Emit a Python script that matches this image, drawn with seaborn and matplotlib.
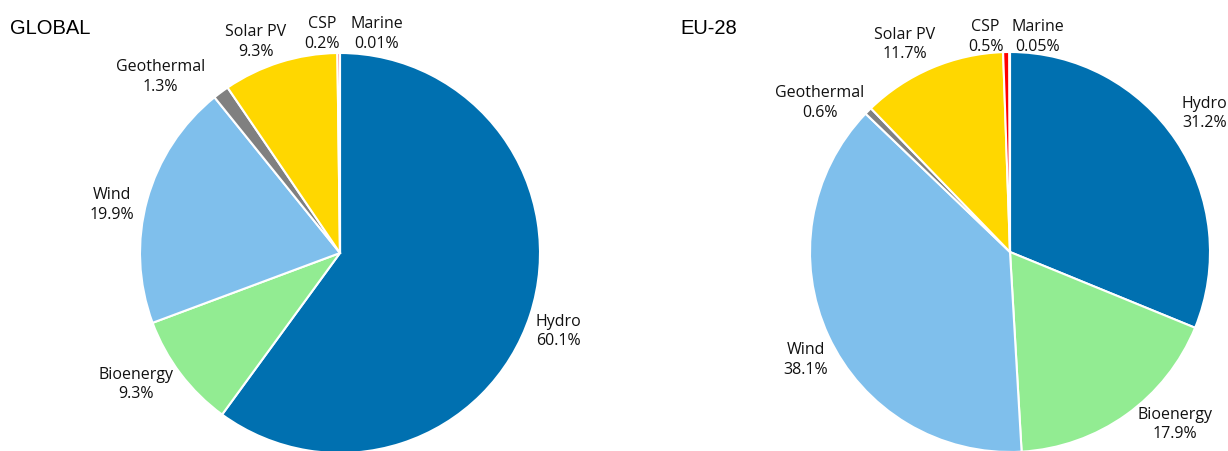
import matplotlib
matplotlib.use("Agg")
import matplotlib.pyplot as plt
import numpy as np
import seaborn as sns

# Renewable capacity shares by technology
technologies = ["Hydro", "Bioenergy", "Wind", "Geothermal", "Solar PV", "CSP", "Marine"]
global_share = [60.1, 9.3, 19.9, 1.3, 9.3, 0.2, 0.01]
eu28_share = [31.2, 17.9, 38.1, 0.6, 11.7, 0.5, 0.05]
global_labels = ["60.1%", "9.3%", "19.9%", "1.3%", "9.3%", "0.2%", "0.01%"]
eu28_labels = ["31.2%", "17.9%", "38.1%", "0.6%", "11.7%", "0.5%", "0.05%"]

sns.set_theme(style="white")
plt.rcParams["font.family"] = ["Open Sans", "DejaVu Sans"]

palette = sns.color_palette(["#0070B0", "#92EC92", "#7FBFEC", "#808080",
                             "#FFD700", "#FF0000", "#1F3864"])

W, H, DPI = 1228, 451, 100
fig = plt.figure(figsize=(W / DPI, H / DPI), dpi=DPI)

# label nudges (data units) applied on top of the radial label position
global_nudge = [(-0.02, -0.03), (-0.09, 0.05), (-0.01, -0.07), (-0.20, -0.06),
                (-0.07, -0.06), (-0.08, -0.075), (0.185, -0.075)]
eu_nudge = [(0.0, 0.04), (0.145, 0.09), (0.04, -0.05), (-0.12, -0.08),
            (-0.07, -0.04), (-0.10, -0.095), (0.14, -0.095)]


def draw_pie(left_px, width_px, cx_px, cy_px, r_px, values, pct, nudges):
    ax = fig.add_axes([left_px / W, 0, width_px / W, 1])
    wedges, _ = ax.pie(values, colors=palette, startangle=90, counterclock=False,
                       radius=1.0, wedgeprops=dict(edgecolor="white", linewidth=1.5))
    ax.set_aspect("auto")
    ax.set_xlim(-(cx_px - left_px) / r_px, (left_px + width_px - cx_px) / r_px)
    ax.set_ylim(-(H - cy_px) / r_px, cy_px / r_px)
    ax.axis("off")
    for w, name, p, (dx, dy) in zip(wedges, technologies, pct, nudges):
        ang = np.deg2rad((w.theta1 + w.theta2) / 2)
        x = 1.17 * np.cos(ang) + dx
        y = 1.17 * np.sin(ang) + dy
        ax.text(x, y, f"{name}\n{p}", ha="center", va="center", fontsize=11.5,
                linespacing=1.3, color="#111111", clip_on=False)
    return ax


draw_pie(0, 614, 340, 253, 200, global_share, global_labels, global_nudge)
draw_pie(614, 614, 1010, 252, 200, eu28_share, eu28_labels, eu_nudge)

fig.text(10 / W, 1 - 28 / H, "GLOBAL", ha="left", va="center", fontsize=14.5,
         family=["Liberation Sans", "DejaVu Sans"], color="black")
fig.text(680 / W, 1 - 28 / H, "EU-28", ha="left", va="center", fontsize=14.5,
         family=["Liberation Sans", "DejaVu Sans"], color="black")

fig.savefig("out.png", dpi=DPI, facecolor="white")
